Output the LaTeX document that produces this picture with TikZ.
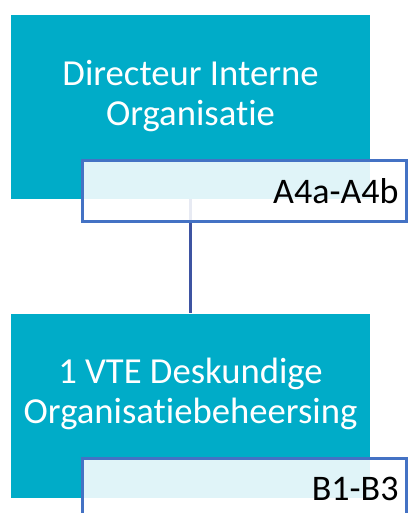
\documentclass[tikz,border=0pt]{standalone}
\usepackage{fontspec}
\setmainfont{Carlito}[Ligatures={NoCommon}]
\usetikzlibrary{positioning}
\definecolor{postteal}{RGB}{0,172,200}
\definecolor{rimblue}{RGB}{68,114,196}
\definecolor{linkblue}{RGB}{62,84,162}
\tikzstyle{post} = [fill=postteal, minimum width=269.25pt, minimum height=138pt, inner sep=0pt]
\tikzstyle{posttext} = [text=white, align=center, font=\fontsize{27.5}{30}\selectfont]
\tikzstyle{line} = [draw, color=linkblue, line width=2.25pt]

\begin{document}
\begin{tikzpicture}[x=0.75pt, y=-0.75pt,
	code/.style={draw=rimblue, line width=2.25pt, fill=white, fill opacity=0.88,
		text opacity=1, minimum width=243pt, minimum height=45.75pt,
		text width=231pt, align=right, inner sep=0pt,
		font=\fontsize{27}{30}\selectfont}]
	\useasboundingbox (0,0) rectangle (409,513);
	\node [post] (dir) at (190.5,107) {};
	\node [post, below=85.5pt of dir] (org) {};
	\node [posttext] (dirtxt) at (190.5,96) {Directeur Interne\\Organisatie};
	\node [posttext] (orgtxt) at (190.5,394) {1 VTE Deskundige\\Organisatiebeheersing};
	%% Flows
	\path [line] (dir.south) to (org.north);
	%% Codes
	\node [code] (dircode) at (244.5,191) {A4a-A4b};
	\node [code] (orgcode) at (244.5,489) {B1-B3};
\end{tikzpicture}
\end{document}
